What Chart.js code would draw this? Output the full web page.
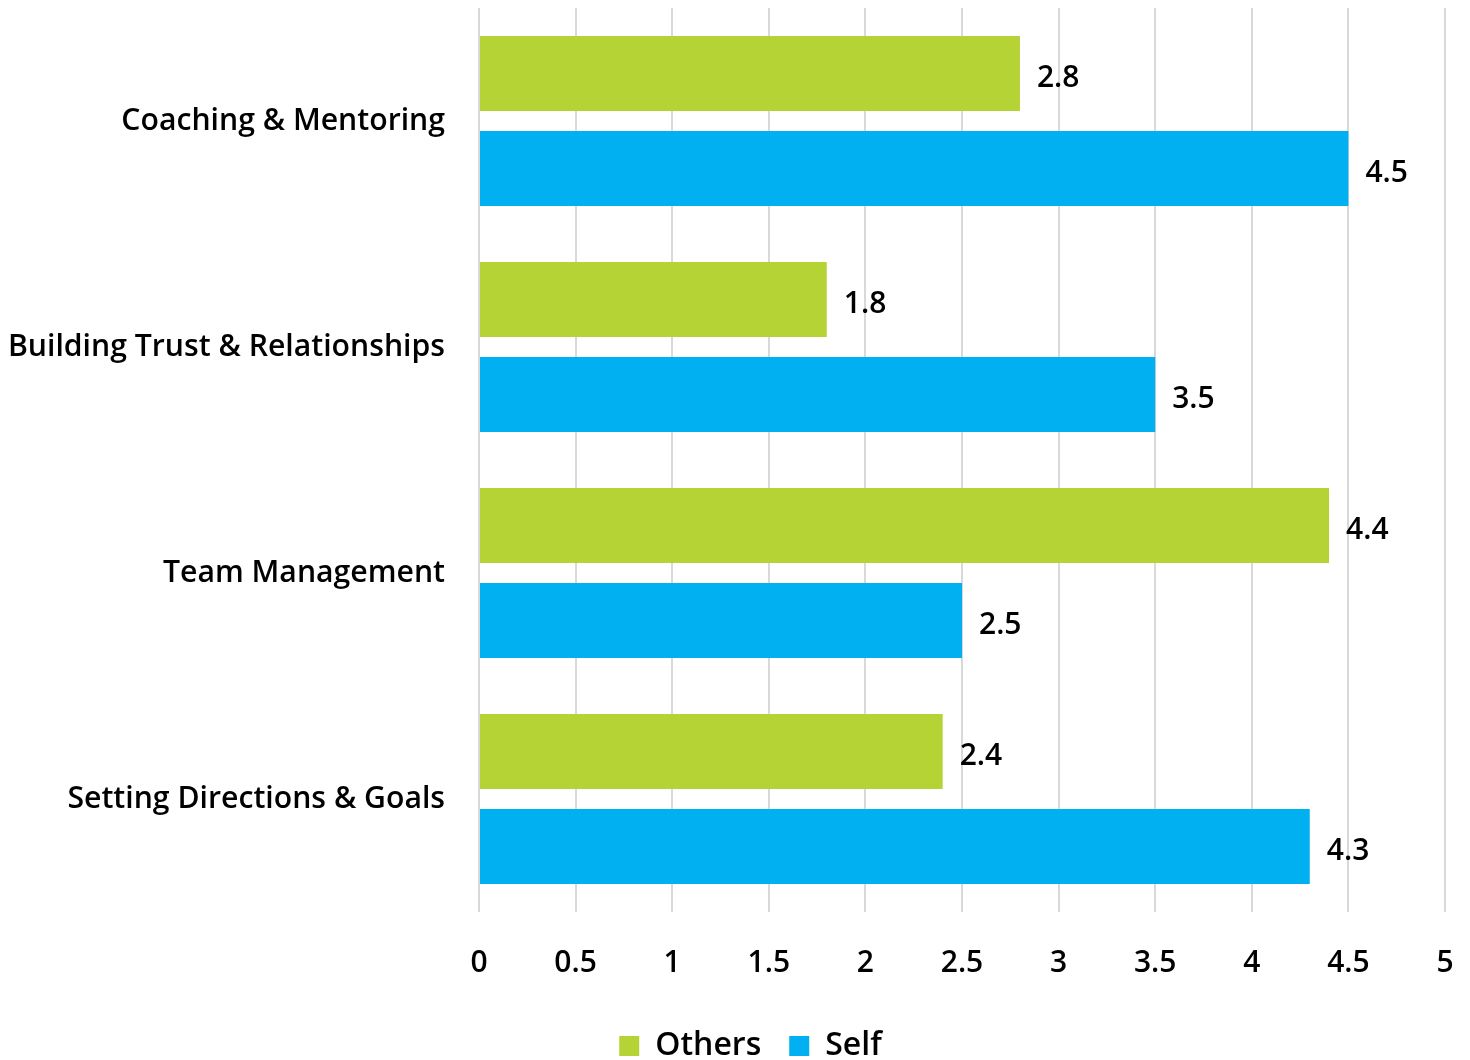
<!DOCTYPE html>
<html>
<head>
<meta charset="utf-8">
<script src="https://cdn.jsdelivr.net/npm/chart.js@4.4.0/dist/chart.umd.min.js"></script>
<style>
html,body{margin:0;padding:0;background:#fff;}
#wrap{width:1470px;height:1060px;position:relative;}
</style>
</head>
<body>
<div id="wrap"><canvas id="c" width="1470" height="1060"></canvas></div>
<script>
const categories = ["Coaching & Mentoring", "Building Trust & Relationships", "Team Management", "Setting Directions & Goals"];
const othersValues = [2.8, 1.8, 4.4, 2.4];
const selfValues = [4.5, 3.5, 2.5, 4.3];
const seriesNames = ["Others", "Self"];
const xMin = 0, xMax = 5, xStep = 0.5;

const FONT = "'Open Sans', 'Noto Sans', sans-serif";

const valueLabels = {
  id: 'valueLabels',
  afterDatasetsDraw(chart) {
    const ctx = chart.ctx;
    ctx.save();
    ctx.font = "600 30px " + FONT;
    ctx.fillStyle = '#000';
    ctx.textAlign = 'left';
    ctx.textBaseline = 'middle';
    chart.data.datasets.forEach((ds, i) => {
      const meta = chart.getDatasetMeta(i);
      meta.data.forEach((bar, j) => {
        ctx.fillText(String(ds.data[j]), bar.x + 17, bar.y + 5);
      });
    });
    ctx.restore();
  }
};

const legendShift = {
  id: 'legendShift',
  afterLayout(chart) {
    if (chart.legend) { chart.legend.left = 56; }
  }
};

new Chart(document.getElementById('c'), {
  type: 'bar',
  data: {
    labels: categories,
    datasets: [
      { label: seriesNames[0], data: othersValues, backgroundColor: '#b5d334', categoryPercentage: 0.84, barPercentage: 0.79 },
      { label: seriesNames[1], data: selfValues, backgroundColor: '#00b0f0', categoryPercentage: 0.84, barPercentage: 0.79 }
    ]
  },
  options: {
    indexAxis: 'y',
    responsive: false,
    animation: false,
    layout: { padding: { top: 8, right: 25, left: 0, bottom: -12 } },
    plugins: {
      tooltip: { enabled: false },
      legend: {
        position: 'bottom',
        labels: {
          boxWidth: 20, boxHeight: 20, padding: 28,
          color: '#000',
          font: { family: FONT, size: 32, weight: '600' }
        }
      }
    },
    scales: {
      x: {
        min: xMin, max: xMax,
        afterFit(s) { s.height = 90; s.paddingLeft = 0; s.paddingRight = 0; s.paddingTop = 0; s.paddingBottom = 0; },
        ticks: { stepSize: xStep, color: '#000', padding: 33, font: { family: FONT, size: 30, weight: '600' },
                 callback: (v) => String(+v) },
        grid: { color: '#d9d9d9', lineWidth: 2, drawTicks: false },
        border: { display: false }
      },
      y: {
        afterFit(s) { s.width = 479; s.paddingLeft = 0; s.paddingRight = 0; s.paddingTop = 0; s.paddingBottom = 0; },
        ticks: { color: '#000', padding: 34, font: { family: FONT, size: 30.2, weight: '600' } },
        grid: { display: false, drawTicks: false },
        border: { display: false }
      }
    }
  },
  plugins: [valueLabels, legendShift]
});
</script>
</body>
</html>
